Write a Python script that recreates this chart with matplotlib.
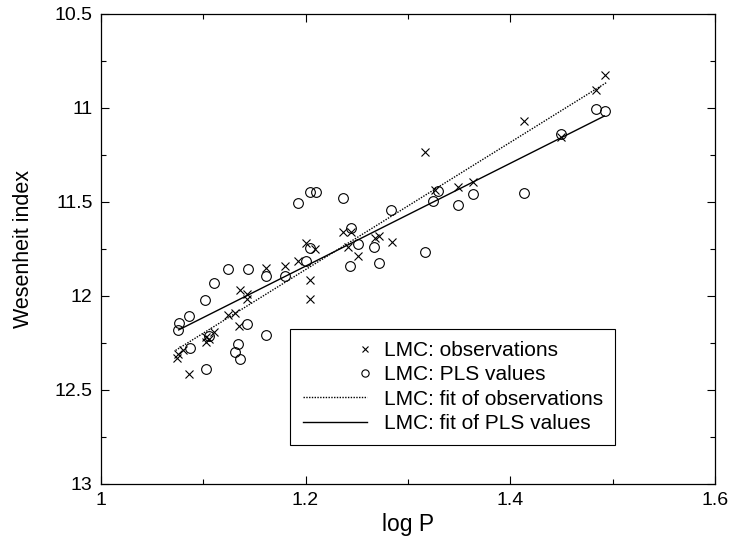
import matplotlib
matplotlib.use("Agg")
import matplotlib.pyplot as plt
from matplotlib.legend_handler import HandlerLine2D
from matplotlib.ticker import MultipleLocator, FuncFormatter

plt.rcParams['font.family'] = ['Liberation Sans', 'DejaVu Sans']

# --- Data ---

obs_logp = [1.493, 1.484, 1.413, 1.450, 1.317, 1.326, 1.349, 1.364, 1.284,
            1.237, 1.244, 1.241, 1.268, 1.272, 1.251, 1.200, 1.209, 1.193,
            1.180, 1.161, 1.204, 1.204, 1.136, 1.143, 1.143, 1.124, 1.131,
            1.135, 1.111, 1.103, 1.106, 1.103, 1.080, 1.075, 1.074, 1.086]
obs_w = [10.823, 10.904, 11.069, 11.153, 11.236, 11.436, 11.418, 11.392, 11.711,
         11.658, 11.658, 11.738, 11.693, 11.681, 11.787, 11.716, 11.752, 11.812,
         11.840, 11.849, 11.915, 12.016, 11.968, 11.989, 12.018, 12.101, 12.089,
         12.160, 12.190, 12.220, 12.230, 12.243, 12.287, 12.309, 12.331, 12.417]

pls_logp = [1.075, 1.076, 1.086, 1.102, 1.111, 1.124, 1.144, 1.161, 1.180,
            1.193, 1.204, 1.210, 1.237, 1.244, 1.200, 1.204, 1.251, 1.267,
            1.272, 1.243, 1.283, 1.317, 1.325, 1.329, 1.349, 1.364, 1.413,
            1.450, 1.484, 1.493, 1.143, 1.161, 1.106, 1.087, 1.134, 1.131,
            1.136, 1.103]
pls_w = [12.181, 12.142, 12.106, 12.021, 11.933, 11.858, 11.856, 11.894, 11.894,
         11.504, 11.445, 11.447, 11.481, 11.637, 11.814, 11.746, 11.723, 11.741,
         11.826, 11.840, 11.543, 11.768, 11.493, 11.441, 11.518, 11.459, 11.450,
         11.138, 11.005, 11.018, 12.149, 12.207, 12.213, 12.278, 12.257, 12.300,
         12.335, 12.390]

# fitted lines (end points)
obs_fit_x = [1.073, 1.494]
obs_fit_y = [12.290, 10.865]
pls_fit_x = [1.076, 1.492]
pls_fit_y = [12.181, 11.043]


class RightMarkerHandler(HandlerLine2D):
    """Legend handler that puts the single marker at the right end."""

    def get_xdata(self, legend, xdescent, ydescent, width, height, fontsize):
        m = -xdescent + width * 0.97
        # numpoints=1 marks the middle of a 3-point line, so centre it on m
        return [m - 1, m + 1], [m]


fig = plt.figure(figsize=(7.31, 5.37), dpi=100)
ax = fig.add_axes([0.138, 0.099, 0.840, 0.875])

h_obs, = ax.plot(obs_logp, obs_w, linestyle='none', marker='x', color='black',
                 markersize=6, markeredgewidth=0.8)
h_pls, = ax.plot(pls_logp, pls_w, linestyle='none', marker='o', color='black',
                 markerfacecolor='none', markersize=7, markeredgewidth=0.8)
h_obs_fit, = ax.plot(obs_fit_x, obs_fit_y, linestyle=(0, (1, 1)), color='black',
                     linewidth=1.0)
h_pls_fit, = ax.plot(pls_fit_x, pls_fit_y, linestyle='-', color='black',
                     linewidth=1.0)

ax.set_xlim(1.0, 1.6)
ax.set_ylim(13.0, 10.5)
ax.xaxis.set_major_locator(MultipleLocator(0.2))
ax.xaxis.set_minor_locator(MultipleLocator(0.1))
ax.yaxis.set_major_locator(MultipleLocator(0.5))
ax.yaxis.set_minor_locator(MultipleLocator(0.25))
ax.xaxis.set_major_formatter(FuncFormatter(lambda v, p: f'{v:g}'))
ax.yaxis.set_major_formatter(FuncFormatter(lambda v, p: f'{v:g}'))
ax.tick_params(which='both', direction='in', top=True, right=True,
               labelsize=14, width=0.8)
ax.tick_params(which='major', length=6, pad=6)
ax.tick_params(which='minor', length=3.5)
for sp in ax.spines.values():
    sp.set_linewidth(0.9)

ax.set_xlabel('log P', fontsize=16.5, labelpad=3)
ax.set_ylabel('Wesenheit index', fontsize=15.5, labelpad=15)

leg = ax.legend([h_obs, h_pls, h_obs_fit, h_pls_fit],
                ['LMC: observations', 'LMC: PLS values',
                 'LMC: fit of observations', 'LMC: fit of PLS values'],
                loc='upper left', bbox_to_anchor=(0.308, 0.330),
                borderaxespad=0.0,
                fontsize=15, numpoints=1, markerscale=0.75,
                handlelength=3.1, handletextpad=0.8, labelspacing=0.25,
                borderpad=0.6, fancybox=False, framealpha=1,
                edgecolor='black',
                handler_map={h_obs: RightMarkerHandler(),
                             h_pls: RightMarkerHandler()})
leg.get_frame().set_linewidth(0.8)

fig.savefig('out.png', dpi=100)
